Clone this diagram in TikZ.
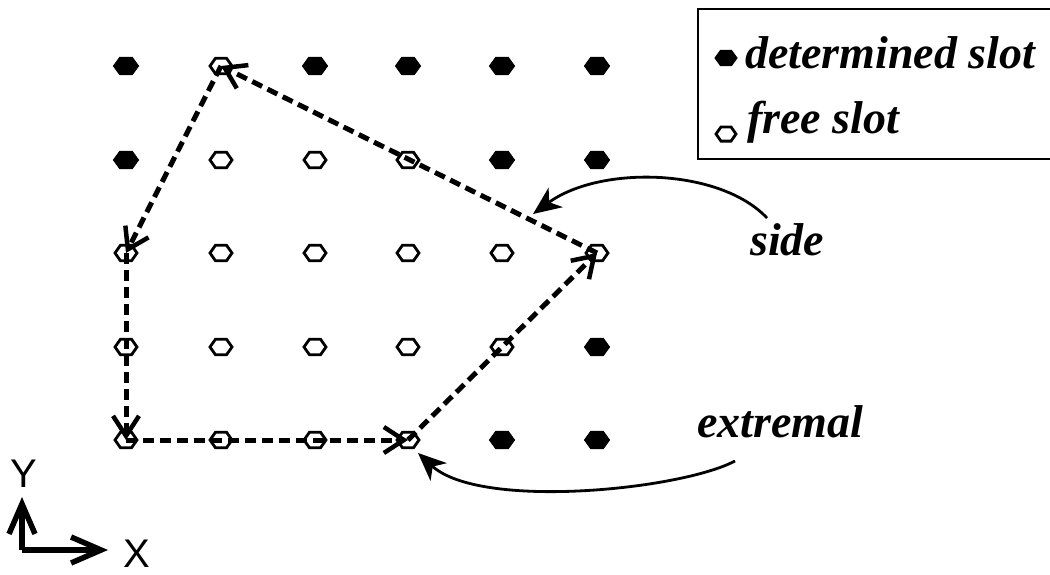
\documentclass[tikz,border=0pt]{standalone}
\usepackage{fontspec}
\setmainfont{Liberation Serif}
\newfontfamily\axfont{Liberation Sans}
\usetikzlibrary{shapes.geometric,arrows.meta}
\tikzset{
  hexf/.style={regular polygon, regular polygon sides=6, minimum size=25pt, inner sep=0pt, fill=black, draw=black, line width=1pt, yscale=0.8, transform shape},
  hexo/.style={regular polygon, regular polygon sides=6, minimum size=22pt, inner sep=0pt, fill=white, draw=black, line width=2.8pt, yscale=0.82, transform shape},
  side/.style={dash pattern=on 11pt off 6pt, line width=5pt, -{Straight Barb[length=20pt,width=26pt,line width=4.5pt]}},
  lbl/.style={font=\fontsize{46}{46}\selectfont\bfseries\itshape, anchor=base west, inner sep=0pt},
  curv/.style={line width=2.8pt, -{Stealth[length=28pt,width=24pt,inset=8pt]}},
  axis/.style={line width=5.5pt, -{Straight Barb[length=30pt,width=26pt,line width=5.5pt]}},
}
\begin{document}
\begin{tikzpicture}[x=1pt,y=-1pt]
\clip (0,0) rectangle (1050,574);
\fill[white] (0,0) rectangle (1050,574);
% row 0
\node[hexf] (a00) at (126,66) {};
\node[hexo] (a01) at (221,66) {};
\node[hexf] (a02) at (315,66) {};
\node[hexf] (a03) at (408,66) {};
\node[hexf] (a04) at (502,66) {};
\node[hexf] (a05) at (597,66) {};
% row 1
\node[hexf] (a10) at (126,160) {};
\node[hexo] (a11) at (221,160) {};
\node[hexo] (a12) at (315,160) {};
\node[hexo] (a13) at (408,160) {};
\node[hexf] (a14) at (502,160) {};
\node[hexf] (a15) at (597,160) {};
% row 2
\node[hexo] (a20) at (126,253) {};
\node[hexo] (a21) at (221,253) {};
\node[hexo] (a22) at (315,253) {};
\node[hexo] (a23) at (408,253) {};
\node[hexo] (a24) at (502,253) {};
\node[hexo] (a25) at (597,253) {};
% row 3
\node[hexo] (a30) at (126,347) {};
\node[hexo] (a31) at (221,347) {};
\node[hexo] (a32) at (315,347) {};
\node[hexo] (a33) at (408,347) {};
\node[hexo] (a34) at (502,347) {};
\node[hexf] (a35) at (597,347) {};
% row 4
\node[hexo] (a40) at (126,440) {};
\node[hexo] (a41) at (221,440) {};
\node[hexo] (a42) at (315,440) {};
\node[hexo] (a43) at (408,440) {};
\node[hexf] (a44) at (502,440) {};
\node[hexf] (a45) at (597,440) {};
% polygon
\draw[side] (a01.center) -- (a20.center);
\draw[side] (a20.center) -- (a40.center);
\draw[side] (a40.center) -- (a43.center);
\draw[side] (a43.center) -- (a25.center);
\draw[side] (a25.center) -- (a01.center);
% legend
\draw[line width=2.6pt] (698,9) rectangle (1070,159);
\node[hexf, minimum size=22pt] (lf) at (726,58) {};
\node[hexo, minimum size=20pt] (lo) at (726,134) {};
\node[lbl] (ld) at (745,68) {determined slot};
\node[lbl] (lfr) at (747,133) {free slot};
% labels
\node[lbl] (sd) at (750,255) {side};
\node[lbl] (ex) at (697,437) {extremal};
\coordinate (sds) at (767,218);
\coordinate (sdt) at (533,214);
\coordinate (exs) at (735,461);
\coordinate (ext) at (418,453);
\draw[curv] (sds) .. controls (720,168) and (600,165) .. (sdt);
\draw[curv] (exs) .. controls (680,490) and (480,510) .. (ext);
% axes
\coordinate (o) at (22,550);
\coordinate (yt) at (22,497);
\coordinate (xt) at (108,550);
\draw[axis] (o) -- (yt);
\draw[axis] (o) -- (xt);
\node[font=\axfont\fontsize{40}{40}\selectfont, anchor=base, inner sep=0pt] (yl) at (24,487) {Y};
\node[font=\axfont\fontsize{40}{40}\selectfont, anchor=base, inner sep=0pt] (xl) at (137,567) {X};
\end{tikzpicture}
\end{document}
